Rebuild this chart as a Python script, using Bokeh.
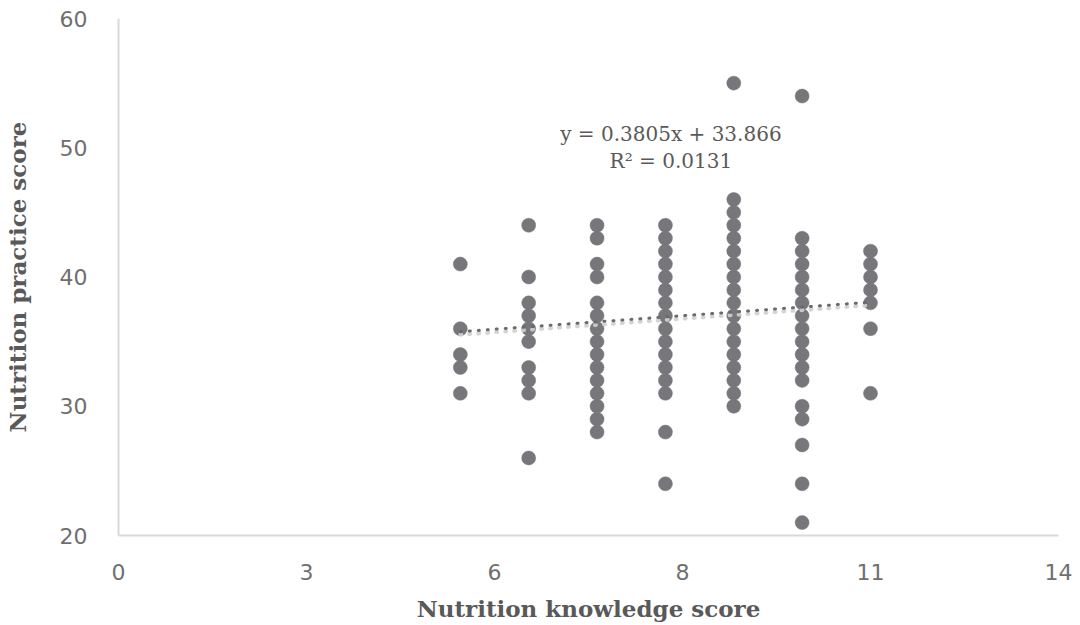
from bokeh.plotting import figure
from bokeh.models import ColumnDataSource, FixedTicker, Label
from bokeh.embed import file_html
from bokeh.resources import INLINE

# ---- data ----
knowledge_levels = [5, 6, 7, 8, 9, 10, 11]
practice_k5 = [41, 36, 34, 33, 31]
practice_k6 = [44, 40, 38, 37, 36, 35, 33, 32, 31, 26]
practice_k7 = [44, 43, 41, 40, 38, 37, 36, 35, 34, 33, 32, 31, 30, 29, 28]
practice_k8 = [44, 43, 42, 41, 40, 39, 38, 37, 36, 35, 34, 33, 32, 31, 28, 24]
practice_k9 = [55, 46, 45, 44, 43, 42, 41, 40, 39, 38, 37, 36, 35, 34, 33, 32, 31, 30]
practice_k10 = [54, 43, 42, 41, 40, 39, 38, 37, 36, 35, 34, 33, 32, 30, 29, 27, 24, 21]
practice_k11 = [42, 41, 40, 39, 38, 36, 31]

trend_slope = 0.3805
trend_intercept = 33.866
trend_r2 = 0.0131
trend_x = [5, 11]

x_ticks = [0, 2.75, 5.5, 8.25, 11, 13.75]
x_tick_labels = ["0", "3", "6", "8", "11", "14"]
y_ticks = [20, 30, 40, 50, 60]

groups = [practice_k5, practice_k6, practice_k7, practice_k8,
          practice_k9, practice_k10, practice_k11]
xs, ys = [], []
for k, g in zip(knowledge_levels, groups):
    xs += [k] * len(g)
    ys += g
src = ColumnDataSource(dict(x=xs, y=ys))

trend_y = [trend_slope * v + trend_intercept for v in trend_x]

GREY_TXT = "#595959"
TICK_TXT = "#6f6f6f"

p = figure(frame_width=940, frame_height=517, x_range=(0, 13.75), y_range=(20, 60),
           output_backend="svg", toolbar_location=None,
           min_border_left=117, min_border_right=15, min_border_top=18,
           min_border_bottom=70)
p.outline_line_color = None
p.xgrid.visible = False
p.ygrid.visible = False
p.background_fill_color = "white"
p.border_fill_color = "white"

p.scatter("x", "y", source=src, size=14, fill_color="#77777b",
          line_color="#77777b", line_width=0.5)

# shadow of trendline (slightly lower) then trendline
shadow_dy = 3.0 / 12.93
p.line(trend_x, [v - shadow_dy for v in trend_y], line_color="#cfcfcf",
       line_width=4, line_dash="1 8", line_cap="round", line_alpha=0.9)
p.line(trend_x, trend_y, line_color="#6a6a6a", line_width=3,
       line_dash="1 8", line_cap="round")

for ax in (p.xaxis[0], p.yaxis[0]):
    ax.axis_line_color = "#d9d9d9"
    ax.axis_line_width = 2
    ax.major_tick_line_color = None
    ax.minor_tick_line_color = None
    ax.major_label_text_font = "DejaVu Sans"
    ax.major_label_text_font_size = "22px"
    ax.major_label_text_color = TICK_TXT
    ax.axis_label_text_font = "DejaVu Serif"
    ax.axis_label_text_font_style = "bold"
    ax.axis_label_text_font_size = "23px"
    ax.axis_label_text_color = GREY_TXT

p.xaxis.ticker = FixedTicker(ticks=x_ticks)
p.xaxis.major_label_overrides = {t: l for t, l in zip(x_ticks, x_tick_labels)}
p.xaxis.major_label_standoff = 22
p.xaxis.axis_label = "Nutrition knowledge score"
p.xaxis.axis_label_standoff = 12

p.yaxis.ticker = FixedTicker(ticks=y_ticks)
p.yaxis.major_label_standoff = 25
p.yaxis.axis_label = "Nutrition practice score"
p.yaxis.axis_label_standoff = 26

eq1 = "y = %.4fx + %.3f" % (trend_slope, trend_intercept)
eq2 = "R\u00b2 = %.4f" % trend_r2
for txt, yy in ((eq1, 51.1), (eq2, 48.95)):
    p.add_layout(Label(x=8.08, y=yy, text=txt, text_align="center",
                       text_baseline="middle", text_font="DejaVu Serif",
                       text_font_size="20px", text_color=GREY_TXT))

open("out.html", "w").write(file_html(p, INLINE))
